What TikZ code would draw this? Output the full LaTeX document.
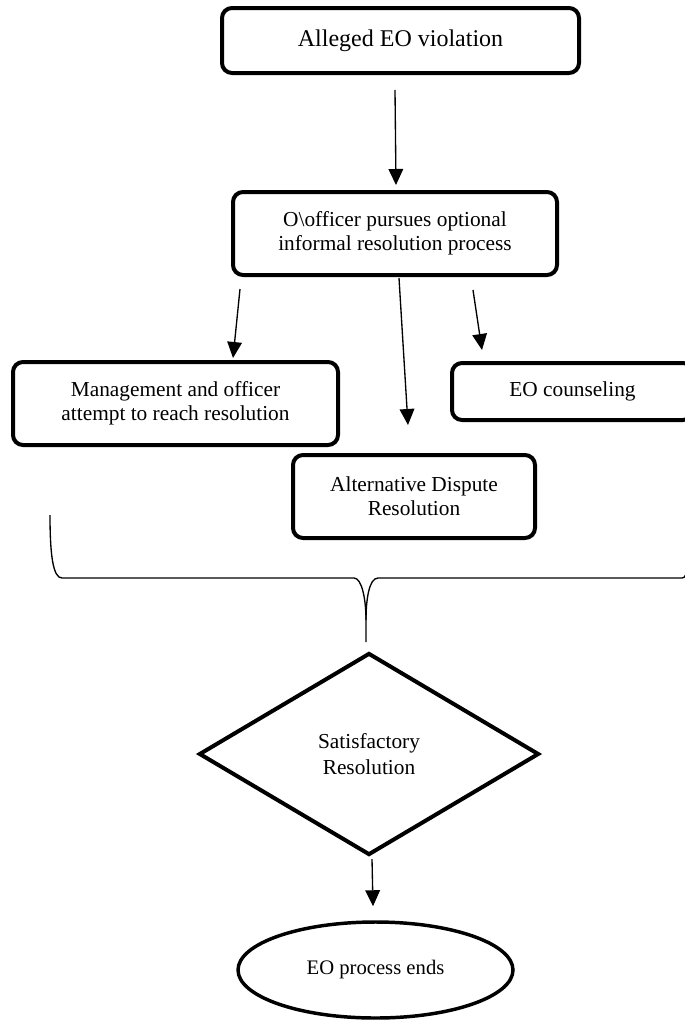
\documentclass[tikz,border=0pt]{standalone}
\usepackage{fontspec}
\setmainfont{Liberation Serif}
\usetikzlibrary{arrows.meta,shapes.geometric}
\begin{document}
\begin{tikzpicture}[x=0.75pt,y=-0.75pt,
  box/.style={draw,line width=3pt,rounded corners=7.5pt,align=center,inner sep=0pt,font=\fontsize{16}{18}\selectfont},
  arr/.style={line width=1pt,-{Triangle[length=12pt,width=11pt]}},
  bracepath/.style={line width=1pt},
  decision/.style={draw,diamond,line width=3pt,align=center,inner sep=0pt,aspect=1.68,font=\fontsize{16}{19}\selectfont},
  terminal/.style={draw,ellipse,line width=2.6pt,align=center,inner sep=0pt,font=\fontsize{15.5}{18}\selectfont}]
\path[use as bounding box,clip] (0,0) rectangle (685,1021);

\node[box,minimum width=267.75pt,minimum height=48.75pt,font=\fontsize{18}{21}\selectfont] (b1) at (400.5,40.5) {Alleged EO violation};
\node[box,minimum width=243pt,minimum height=62.25pt] (b2) at (395,233.5) {O\textbackslash officer pursues optional\\informal resolution process};
\node[box,minimum width=243.75pt,minimum height=62.25pt] (mg) at (175.5,403.5) {Management and officer\\attempt to reach resolution};
\node[box,minimum width=180.75pt,minimum height=42.75pt] (eo) at (572.5,391.5) {EO counseling};
\node[box,minimum width=181.5pt,minimum height=62.25pt] (adr) at (414,496.5) {Alternative Dispute\\Resolution};
\node[decision,minimum width=255pt,minimum height=151.5pt] (dia) at (369,754) {Satisfactory\\Resolution};
\node[terminal,minimum width=206.25pt,minimum height=72pt] (ell) at (375.5,970) {EO process ends};

\draw[arr] ([shift={(-5.5,15)}]b1.south) -- ([shift={(1,-5)}]b2.north);
\draw[arr] ([shift={(9,12)}]b2.south west) -- ([shift={(57.5,-2)}]mg.north);
\draw[arr] ([shift={(4,1)}]b2.south) -- ([shift={(-6,-28)}]adr.north);
\draw[arr] ([shift={(78,13)}]b2.south) -- ([shift={(-90.5,-11)}]eo.north);
\draw[arr] ([shift={(3,2)}]dia.south) -- ([shift={(-2.5,-14)}]ell.north);

\draw[bracepath] (50,515) .. controls (50,555) and (53,578) .. (62,578) -- (354,578) .. controls (362,578) and (366,600) .. (366,620) -- (366,642);
\draw[bracepath] (366,620) .. controls (366,600) and (369,578) .. (378,578) -- (682,578) .. controls (684,578) and (685,577) .. (686,574);
\end{tikzpicture}
\end{document}
